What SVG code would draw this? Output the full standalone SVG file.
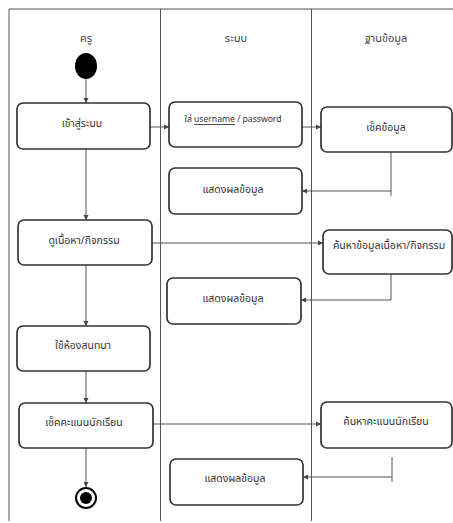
<svg xmlns="http://www.w3.org/2000/svg" width="453" height="523" viewBox="0 0 453 523">
<defs>
<marker id="ah" markerWidth="6" markerHeight="6" refX="5" refY="3" orient="auto" markerUnits="userSpaceOnUse">
<path d="M0,0.5 L5,3 L0,5.5 Z" fill="#444"/>
</marker>
<style>
.lane{stroke:#555;stroke-width:1;fill:none}
.box{fill:#fff;stroke:#333;stroke-width:1.7}
.t{font-family:"Noto Sans Thai","Noto Sans","Liberation Sans",sans-serif;font-size:10.5px;fill:#333;text-anchor:middle;dominant-baseline:central}
.s{font-size:8.6px}
.h{font-family:"Noto Sans Thai","Noto Sans","Liberation Sans",sans-serif;font-size:11px;fill:#444;text-anchor:middle;dominant-baseline:central}
.c{stroke:#555;stroke-width:1;fill:none}
.ca{stroke:#555;stroke-width:1;fill:none;marker-end:url(#ah)}
</style>
</defs>
<rect width="453" height="523" fill="#fff"/>
<g id="lanes">
<path class="lane" d="M9,521 V9 H453 M160.5,9 V521 M311.5,9 V521"/>
<text class="h" x="86" y="38">ครู</text>
<text class="h" x="236" y="38">ระบบ</text>
<text class="h" x="386" y="38">ฐานข้อมูล</text>
</g>
<g id="connectors">
<path class="ca" d="M86,79 V103"/>
<path class="ca" d="M150,127 H169"/>
<path class="ca" d="M302,127 H321"/>
<path class="c" d="M391,152 V196"/>
<path class="ca" d="M391,191 H302"/>
<path class="ca" d="M86,149 V220"/>
<path class="ca" d="M152,243 H323"/>
<path class="c" d="M391,274 V300"/>
<path class="ca" d="M391,300 H301"/>
<path class="ca" d="M86,265 V326"/>
<path class="ca" d="M86,371 V403"/>
<path class="ca" d="M153,424 H321"/>
<path class="c" d="M392,457 V482"/>
<path class="ca" d="M392,477 H303"/>
<path class="ca" d="M86,448 V487"/>
</g>
<g id="start"><ellipse cx="86" cy="66" rx="11" ry="13" fill="#000"/></g>
<g id="n1"><rect class="box" x="17" y="103" width="133" height="46" rx="6"/><text class="t" x="82" y="124">เข้าสู่ระบบ</text></g>
<g id="n2"><rect class="box" x="169" y="102" width="133" height="45" rx="6"/><text class="t s" x="233" y="119">ใส่ <tspan text-decoration="underline">username</tspan> / password</text></g>
<g id="n3"><rect class="box" x="321" y="107" width="131" height="45" rx="6"/><text class="t" x="386" y="128">เช็คข้อมูล</text></g>
<g id="n4"><rect class="box" x="169" y="168" width="133" height="46" rx="6"/><text class="t" x="233" y="190">แสดงผลข้อมูล</text></g>
<g id="n5"><rect class="box" x="18" y="220" width="134" height="45" rx="6"/><text class="t" x="84" y="241">ดูเนื้อหา/กิจกรรม</text></g>
<g id="n6"><rect class="box" x="323" y="230" width="129" height="44" rx="6"/><text class="t" x="389" y="246">ค้นหาข้อมูลเนื้อหา/กิจกรรม</text></g>
<g id="n7"><rect class="box" x="167" y="278" width="134" height="46" rx="6"/><text class="t" x="233" y="299">แสดงผลข้อมูล</text></g>
<g id="n8"><rect class="box" x="17" y="326" width="133" height="45" rx="6"/><text class="t" x="83" y="346">ใช้ห้องสนทนา</text></g>
<g id="n9"><rect class="box" x="19" y="403" width="134" height="45" rx="6"/><text class="t" x="84" y="423">เช็คคะแนนนักเรียน</text></g>
<g id="n10"><rect class="box" x="321" y="402" width="131" height="46" rx="6"/><text class="t" x="386" y="422">ค้นหาคะแนนนักเรียน</text></g>
<g id="n11"><rect class="box" x="170" y="459" width="133" height="46" rx="6"/><text class="t" x="235" y="479">แสดงผลข้อมูล</text></g>
<g id="end"><circle cx="86" cy="498" r="10" fill="#fff" stroke="#000" stroke-width="2"/><circle cx="86" cy="498" r="6" fill="#000"/></g>
</svg>
